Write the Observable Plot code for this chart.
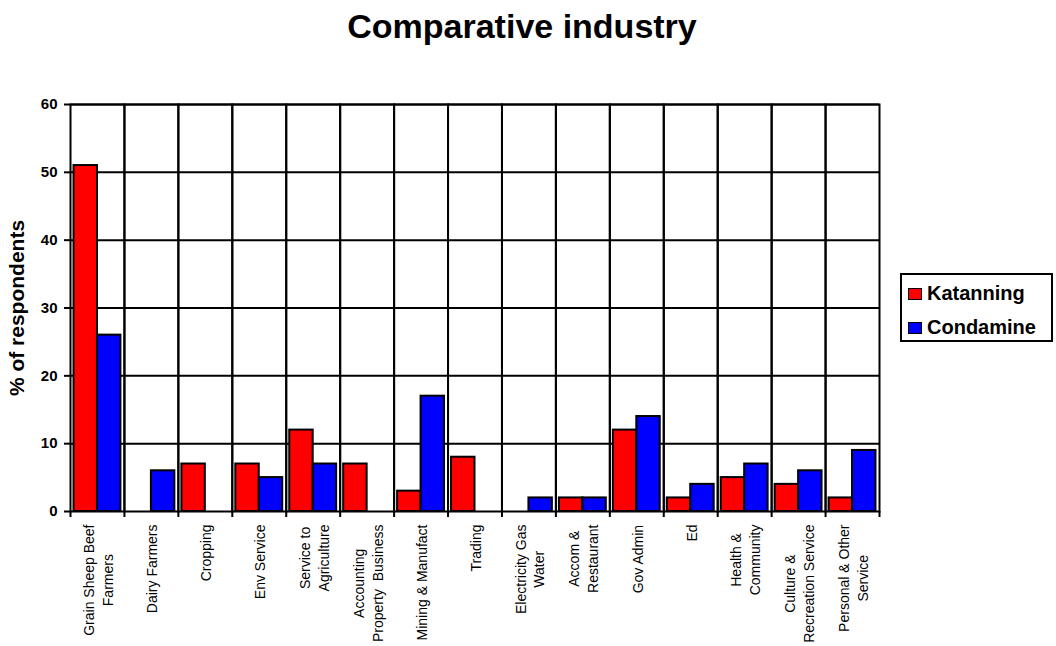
<!DOCTYPE html>
<html>
<head>
<meta charset="utf-8">
<script src="https://cdn.jsdelivr.net/npm/d3@7"></script>
<script src="https://cdn.jsdelivr.net/npm/@observablehq/plot@0.6"></script>
<style>
  html, body { margin: 0; padding: 0; background: #fff; }
  #wrap { position: relative; width: 1056px; height: 646px; font-family: "Liberation Sans", Arial, sans-serif; }
  #title { position: absolute; top: 8px; left: 0; width: 1044px; text-align: center; font-size: 34px; line-height: 36px; font-weight: bold; }
  #chart { position: absolute; top: 64px; left: 0; }
  #legend { position: absolute; left: 900px; top: 273px; width: 149px; height: 65px; border: 2px solid #000; background: #fff; }
  .item { position: absolute; left: 6px; display: flex; align-items: center; font-weight: bold; font-size: 20px; }
  .sw { width: 12px; height: 10px; border: 1.5px solid #000; margin-right: 5px; }
</style>
</head>
<body>
<div id="wrap">
  <div id="title">Comparative industry</div>
  <div id="chart"></div>
  <div id="legend"></div>
</div>
<script>
// Industry categories and their axis labels (line breaks as shown under the axis)
const categories = [
  "Grain Sheep Beef Farmers", "Dairy Farmers", "Cropping", "Env Service",
  "Service to Agriculture", "Accounting Property Business", "Mining & Manufact",
  "Trading", "Electricity Gas Water", "Accom & Restaurant", "Gov Admin", "Ed",
  "Health & Community", "Culture & Recreation Service", "Personal & Other Service"
];
const xLabels = [
  "Grain Sheep Beef\nFarmers", "Dairy Farmers", "Cropping", "Env Service",
  "Service to\nAgriculture", "Accounting\nProperty  Business", "Mining & Manufact",
  "Trading", "Electricity Gas\nWater", "Accom &\nRestaurant", "Gov Admin", "Ed",
  "Health &\nCommunity", "Culture &\nRecreation Service", "Personal & Other\nService"
];
const series = ["Katanning", "Condamine"];
const katanning = [51, 0, 7, 7, 12, 7, 3, 8, 0, 2, 12, 2, 5, 4, 2];
const condamine = [26, 6, 0, 5, 7, 0, 17, 0, 2, 2, 14, 4, 7, 6, 9];
const yTicks = [0, 10, 20, 30, 40, 50, 60];
const colors = ["#ff0000", "#0000ff"];

const data = categories.flatMap((c, i) => [
  {category: c, series: series[0], value: katanning[i]},
  {category: c, series: series[1], value: condamine[i]}
]);

// Layout
const W = 1056, H = 582, mL = 70, mR = 177, mT = 40, mB = 135;
const padOuter = 0.15;
const facetW = (W - mL - mR) / categories.length;
const step = facetW / (2 + 2 * padOuter);
const edge = step * (padOuter + 0.5); // from band centre to facet edge

// Measure label lines so each rotated block starts just below the axis
const ctx = document.createElement("canvas").getContext("2d");
ctx.font = '14px "Liberation Sans"';
const labelLen = xLabels.map(s => Math.max(...s.split("\n").map(t => ctx.measureText(t).width)));

const labelMarks = categories.map((c, i) => Plot.text([c], {
  fx: d => d, frameAnchor: "bottom", text: () => xLabels[i],
  rotate: -90, textAnchor: "middle", lineAnchor: "middle", lineHeight: 1.35,
  dy: 13 + labelLen[i] / 2, fontSize: 14, fill: "#000"
}));

const chart = Plot.plot({
  width: W, height: H, marginLeft: mL, marginRight: mR, marginTop: mT, marginBottom: mB,
  style: {fontFamily: '"Liberation Sans", Arial, sans-serif', background: "#fff", color: "#000", overflow: "visible"},
  fx: {domain: categories, padding: 0, round: false, axis: null},
  x: {domain: series, paddingInner: 0, paddingOuter: padOuter, round: false, axis: null},
  y: {domain: [0, 60], axis: null},
  color: {domain: series, range: colors},
  marks: [
    Plot.ruleY(yTicks.slice(1), {stroke: "#000", strokeWidth: 2}),
    Plot.barY(data.filter(d => d.value > 0), {
      fx: "category", x: "series", y: "value", fill: "series",
      stroke: "#000", strokeWidth: 2
    }),
    Plot.frame({stroke: "#000", strokeWidth: 2}),
    // tick marks at category boundaries below the axis
    Plot.ruleX(categories, {fx: d => d, x: () => series[0], y1: 0, y2: 0, insetBottom: -6, dx: -edge, stroke: "#000", strokeWidth: 2}),
    Plot.ruleX(categories.slice(-1), {fx: d => d, x: () => series[1], y1: 0, y2: 0, insetBottom: -6, dx: edge, stroke: "#000", strokeWidth: 2}),
    Plot.axisY({ticks: yTicks, tickSize: 6, tickPadding: 7, fontSize: 15, fontWeight: "bold", strokeWidth: 2, label: null}),
    Plot.text(["% of respondents"], {
      frameAnchor: "left", facetAnchor: "left", dx: -53, rotate: -90,
      textAnchor: "middle", fontSize: 21, fontWeight: "bold", fill: "#000"
    }),
    ...labelMarks
  ]
});
document.getElementById("chart").appendChild(chart);

// Legend
const legend = document.getElementById("legend");
series.forEach((s, i) => {
  const item = document.createElement("div");
  item.className = "item";
  item.style.top = (i === 0 ? 7 : 41) + "px";
  const sw = document.createElement("span");
  sw.className = "sw";
  sw.style.background = colors[i];
  const label = document.createElement("span");
  label.textContent = s;
  item.append(sw, label);
  legend.appendChild(item);
});
</script>
</body>
</html>
